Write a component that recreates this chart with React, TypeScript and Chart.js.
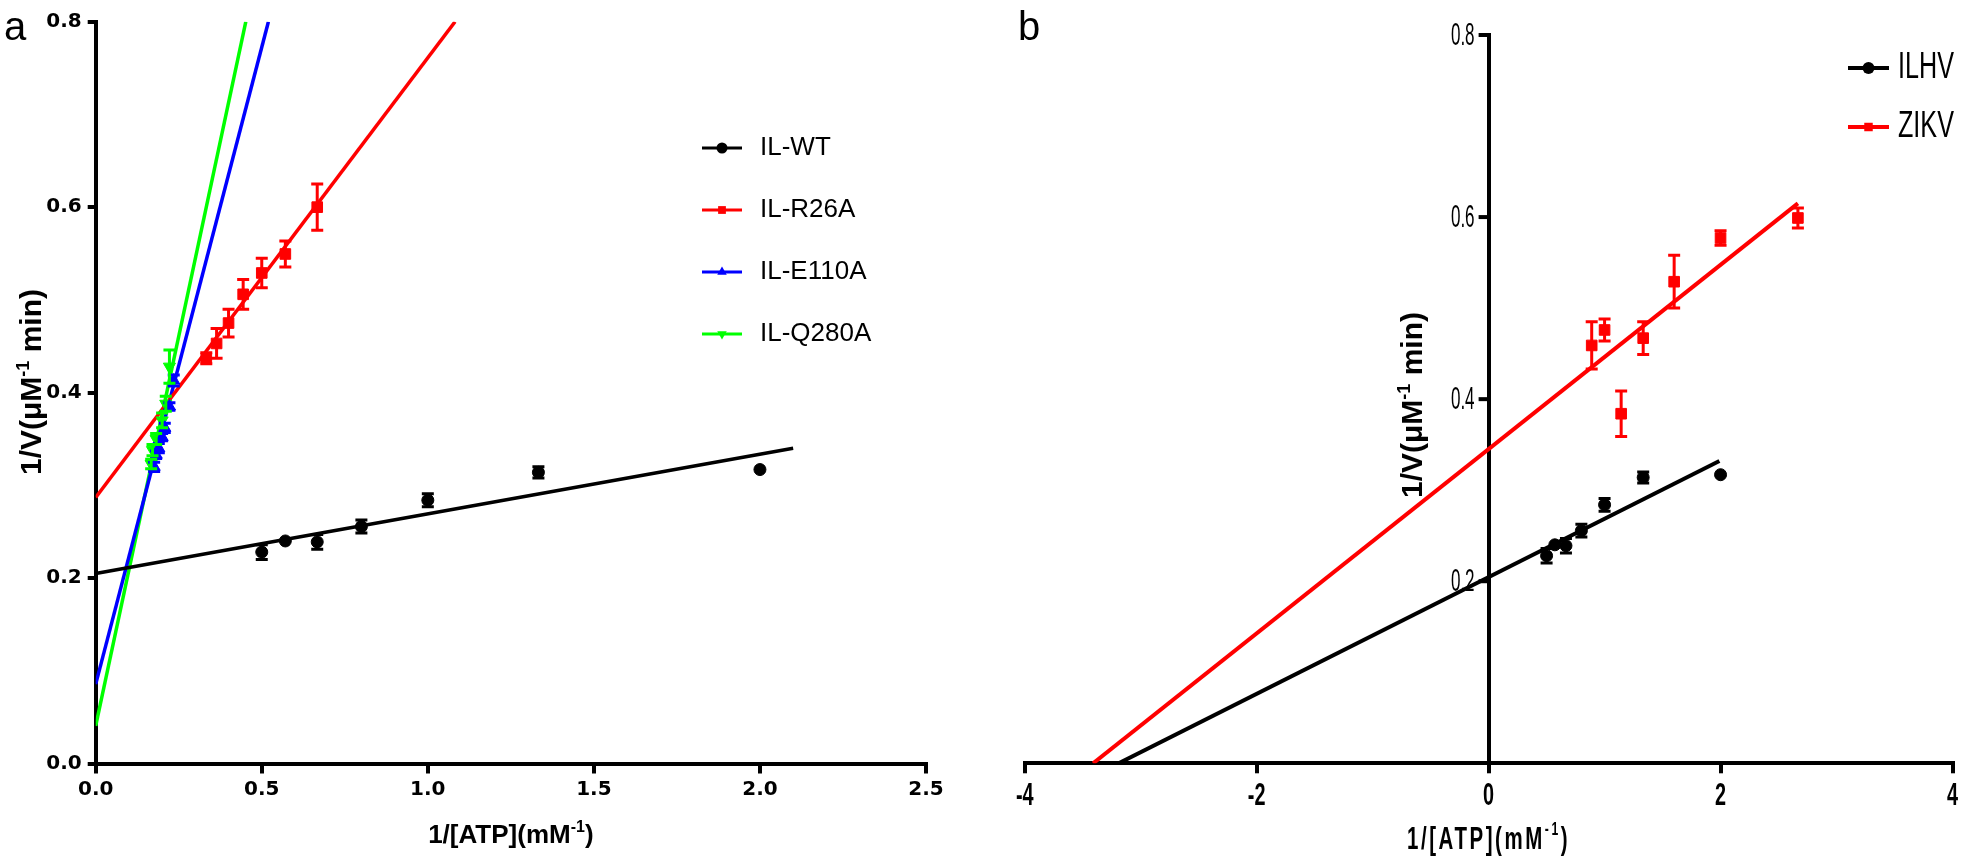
import React, { useEffect, useRef } from "react";
import { Chart, registerables } from "chart.js";
Chart.register(...registerables);

// ---------------- Panel a data ----------------
const wtX = [0.5, 0.571, 0.667, 0.8, 1.0, 1.333, 2.0];
const wtY = [0.228, 0.24, 0.239, 0.2555, 0.284, 0.314, 0.317];
const wtErr = [0.008, 0.0, 0.008, 0.007, 0.007, 0.006, 0.0];

const r26aX = [0.333, 0.364, 0.4, 0.444, 0.5, 0.571, 0.667];
const r26aY = [0.437, 0.453, 0.475, 0.506, 0.529, 0.5495, 0.6];
const r26aErr = [0.006, 0.016, 0.015, 0.016, 0.016, 0.014, 0.025];

const e110aX = [0.176, 0.182, 0.19, 0.2, 0.208, 0.222, 0.235];
const e110aY = [0.32, 0.333, 0.34, 0.352, 0.362, 0.385, 0.413];
const e110aErr = [0.005, 0.004, 0.005, 0.004, 0.005, 0.004, 0.006];

const q280aX = [0.167, 0.171, 0.182, 0.2, 0.211, 0.222];
const q280aY = [0.323, 0.338, 0.35, 0.37, 0.388, 0.428];
const q280aErr = [0.005, 0.006, 0.006, 0.008, 0.008, 0.018];

const wtFitX = [0, 2.1];
const wtFitY = [0.205, 0.34];
const r26aFitX = [0, 1.082];
const r26aFitY = [0.287, 0.8];
const e110aFitX = [0, 0.52];
const e110aFitY = [0.0856, 0.8];
const q280aFitX = [0, 0.452];
const q280aFitY = [0.0406, 0.8];

const aXTicks = [0, 0.5, 1.0, 1.5, 2.0, 2.5];
const aYTicks = [0, 0.2, 0.4, 0.6, 0.8];

// ---------------- Panel b data ----------------
const ilhvX = [0.5, 0.571, 0.667, 0.8, 1.0, 1.333, 2.0];
const ilhvY = [0.228, 0.24, 0.239, 0.2555, 0.284, 0.314, 0.317];
const ilhvErr = [0.008, 0.0, 0.008, 0.007, 0.007, 0.006, 0.0];

const zikvX = [0.889, 1.0, 1.143, 1.333, 1.6, 2.0, 2.667];
const zikvY = [0.459, 0.476, 0.384, 0.467, 0.529, 0.577, 0.599];
const zikvErr = [0.026, 0.012, 0.025, 0.018, 0.029, 0.008, 0.011];

const ilhvFitX = [-3.19, 1.99];
const ilhvFitY = [0, 0.332];
const zikvFitX = [-3.41, 2.667];
const zikvFitY = [0, 0.615];

const bXTicks = [-4, -2, 0, 2, 4];
const bYTicks = [0.2, 0.4, 0.6, 0.8];

// ---------------- styling ----------------
const ARIAL = '"Liberation Sans", Arial, Helvetica, sans-serif';
const WIDE = '"DejaVu Sans", Verdana, sans-serif';

const toPts = (xs: number[], ys: number[]) => xs.map((x, i) => ({ x, y: ys[i] }));

function ptsDs(label: string, xs: number[], ys: number[], errs: number[], color: string, style: string, r: number, rot: number) {
  return {
    label,
    data: toPts(xs, ys),
    errors: errs,
    showLine: false,
    pointStyle: style,
    pointRadius: r,
    pointHoverRadius: r,
    pointRotation: rot,
    backgroundColor: color,
    borderColor: color,
    borderWidth: 1,
    isPts: true,
  };
}

function fitDs(xs: number[], ys: number[], color: string, w: number) {
  return {
    label: "",
    data: toPts(xs, ys),
    showLine: true,
    pointRadius: 0,
    pointHoverRadius: 0,
    borderColor: color,
    backgroundColor: color,
    borderWidth: w,
    fill: false,
  };
}

const errorBarPlugin = {
  id: "errbars",
  afterDatasetsDraw(chart: any) {
    const ctx = chart.ctx;
    const xs = chart.scales.x;
    const ys = chart.scales.y;
    chart.data.datasets.forEach((ds: any) => {
      if (!ds.errors) return;
      ctx.save();
      ctx.strokeStyle = ds.borderColor;
      ctx.lineWidth = 3;
      ds.data.forEach((p: any, i: number) => {
        const e = ds.errors[i];
        if (!e) return;
        const px = xs.getPixelForValue(p.x);
        const top = ys.getPixelForValue(p.y + e);
        const bot = ys.getPixelForValue(p.y - e);
        const cap = 6;
        ctx.beginPath();
        ctx.moveTo(px, top);
        ctx.lineTo(px, bot);
        ctx.moveTo(px - cap, top);
        ctx.lineTo(px + cap, top);
        ctx.moveTo(px - cap, bot);
        ctx.lineTo(px + cap, bot);
        ctx.stroke();
      });
      ctx.restore();
    });
  },
};

function drawMarker(ctx: CanvasRenderingContext2D, style: string, x: number, y: number, r: number, color: string, rot: number) {
  ctx.save();
  ctx.fillStyle = color;
  ctx.beginPath();
  if (style === "circle") {
    ctx.arc(x, y, r, 0, Math.PI * 2);
  } else if (style === "rect") {
    const s = r * Math.SQRT1_2;
    ctx.rect(x - s, y - s, 2 * s, 2 * s);
  } else {
    ctx.translate(x, y);
    ctx.rotate((rot * Math.PI) / 180);
    ctx.moveTo(0, -r);
    ctx.lineTo(r * 0.866, r * 0.5);
    ctx.lineTo(-r * 0.866, r * 0.5);
    ctx.closePath();
  }
  ctx.fill();
  ctx.restore();
}

type Part = { t: string; sup?: boolean };

function drawSupText(
  ctx: CanvasRenderingContext2D,
  parts: Part[],
  cx: number,
  cy: number,
  font: string,
  supFont: string,
  supRise: number,
  rotate: boolean,
  sx = 1,
  spacing = "0px"
) {
  ctx.save();
  (ctx as any).letterSpacing = spacing;
  let total = 0;
  const widths = parts.map((p) => {
    ctx.font = p.sup ? supFont : font;
    const w = ctx.measureText(p.t).width;
    total += w;
    return w;
  });
  ctx.translate(cx, cy);
  if (rotate) ctx.rotate(-Math.PI / 2);
  ctx.scale(sx, 1);
  ctx.fillStyle = "#000";
  ctx.textBaseline = "middle";
  ctx.textAlign = "left";
  let x = -total / 2;
  parts.forEach((p, i) => {
    ctx.font = p.sup ? supFont : font;
    ctx.fillText(p.t, x, p.sup ? -supRise : 0);
    x += widths[i];
  });
  ctx.restore();
}

function drawNarrow(ctx: CanvasRenderingContext2D, text: string, x: number, y: number, font: string, sx: number, align: CanvasTextAlign) {
  ctx.save();
  ctx.translate(x, y);
  ctx.scale(sx, 1);
  ctx.font = font;
  ctx.fillStyle = "#000";
  ctx.textAlign = align;
  ctx.textBaseline = "middle";
  ctx.fillText(text, 0, 0);
  ctx.restore();
}

function drawLegend(
  ctx: CanvasRenderingContext2D,
  chart: any,
  rows: number[],
  x0: number,
  x1: number,
  tx: number,
  font: string,
  r: number,
  lw: number,
  sx: number
) {
  const dss = chart.data.datasets.filter((d: any) => d.isPts);
  dss.forEach((ds: any, i: number) => {
    const y = rows[i];
    ctx.save();
    ctx.strokeStyle = ds.borderColor;
    ctx.lineWidth = lw;
    ctx.beginPath();
    ctx.moveTo(x0, y);
    ctx.lineTo(x1, y);
    ctx.stroke();
    ctx.restore();
    drawMarker(ctx, ds.pointStyle, (x0 + x1) / 2, y, r, ds.borderColor, ds.pointRotation || 0);
    drawNarrow(ctx, ds.label, tx, y, font, sx, "left");
  });
}

const decoA = {
  id: "decoA",
  afterDraw(chart: any) {
    const ctx = chart.ctx as CanvasRenderingContext2D;
    const ca = chart.chartArea;
    drawSupText(ctx, [{ t: "1/V(μM" }, { t: "-1", sup: true }, { t: " min)" }], 33, 382, `bold 30px ${ARIAL}`, `bold 18px ${ARIAL}`, 9, true);
    drawSupText(ctx, [{ t: "1/[ATP](mM" }, { t: "-1", sup: true }, { t: ")" }], (ca.left + ca.right) / 2, 836, `bold 26px ${ARIAL}`, `bold 16px ${ARIAL}`, 8, false);
    drawLegend(ctx, chart, [148, 210, 272, 334], 702, 742, 760, `26px ${ARIAL}`, 5.5, 3, 1);
    ctx.save();
    ctx.font = `40px ${ARIAL}`;
    ctx.fillStyle = "#000";
    ctx.textBaseline = "alphabetic";
    ctx.fillText("a", 4, 40);
    ctx.restore();
  },
};

const decoB = {
  id: "decoB",
  afterDraw(chart: any) {
    const ctx = chart.ctx as CanvasRenderingContext2D;
    const ca = chart.chartArea;
    const xs = chart.scales.x;
    const ys = chart.scales.y;
    const ax = xs.getPixelForValue(0);
    // y-axis tick marks and labels (axis sits at x = 0)
    ys.ticks.forEach((t: any) => {
      const py = ys.getPixelForValue(t.value);
      ctx.save();
      ctx.strokeStyle = "#000";
      ctx.lineWidth = 4;
      ctx.beginPath();
      ctx.moveTo(ax, py);
      ctx.lineTo(ax - 10, py);
      ctx.stroke();
      ctx.restore();
      drawNarrow(ctx, Number(t.value).toFixed(1), ax - 14, py + 1, `31px ${ARIAL}`, 0.55, "right");
    });
    // x tick labels
    xs.ticks.forEach((t: any) => {
      const px = xs.getPixelForValue(t.value);
      drawNarrow(ctx, String(t.value), px, ca.bottom + 33, `bold 32px ${ARIAL}`, 0.62, "center");
    });
    drawSupText(ctx, [{ t: "1/V(μM" }, { t: "-1", sup: true }, { t: " min)" }], 434, 405, `bold 30px ${ARIAL}`, `bold 18px ${ARIAL}`, 9, true);
    drawSupText(ctx, [{ t: "1/[ATP](mM" }, { t: "-1", sup: true }, { t: ")" }], (ca.left + ca.right) / 2, 840, `bold 32px ${ARIAL}`, `bold 19px ${ARIAL}`, 10, false, 0.64, "4px");
    drawLegend(ctx, chart, [68, 127], 868, 909, 918, `37px ${ARIAL}`, 6, 4, 0.68);
    ctx.save();
    ctx.font = `40px ${ARIAL}`;
    ctx.fillStyle = "#000";
    ctx.textBaseline = "alphabetic";
    ctx.fillText("b", 38, 40);
    ctx.restore();
  },
};

function axisCommon(tickFont: any, tickLen: number, pad: number) {
  return {
    type: "linear" as const,
    ticks: { font: tickFont, color: "#000", padding: pad, maxRotation: 0, autoSkip: false },
    grid: { display: true, drawOnChartArea: false, drawTicks: true, tickLength: tickLen, color: "#000", lineWidth: 4 },
    border: { display: true, color: "#000", width: 4 },
    title: { display: false },
  };
}

function configA(): any {
  const tf = { family: WIDE, size: 20, weight: "bold" };
  const xa: any = axisCommon(tf, 10, 4);
  const ya: any = axisCommon(tf, 8, 6);
  return {
    type: "scatter",
    data: {
      datasets: [
        ptsDs("IL-WT", wtX, wtY, wtErr, "#000000", "circle", 6, 0),
        ptsDs("IL-R26A", r26aX, r26aY, r26aErr, "#ff0000", "rect", 7.5, 0),
        ptsDs("IL-E110A", e110aX, e110aY, e110aErr, "#0000ff", "triangle", 7, 0),
        ptsDs("IL-Q280A", q280aX, q280aY, q280aErr, "#00ff00", "triangle", 7, 180),
        fitDs(wtFitX, wtFitY, "#000000", 3.5),
        fitDs(r26aFitX, r26aFitY, "#ff0000", 3.5),
        fitDs(e110aFitX, e110aFitY, "#0000ff", 3.5),
        fitDs(q280aFitX, q280aFitY, "#00ff00", 3.5),
      ],
    },
    options: {
      responsive: false,
      animation: false,
      devicePixelRatio: 1,
      events: [],
      layout: { padding: { left: 0, top: 21.7, right: 54, bottom: 0 } },
      plugins: { legend: { display: false }, tooltip: { enabled: false }, title: { display: false } },
      scales: {
        x: {
          ...xa,
          min: 0,
          max: 2.5,
          afterBuildTicks: (s: any) => {
            s.ticks = aXTicks.map((v) => ({ value: v }));
          },
          ticks: { ...xa.ticks, callback: (v: any) => Number(v).toFixed(1) },
          afterFit: (s: any) => {
            s.height = 102.5;
          },
        },
        y: {
          ...ya,
          min: 0,
          max: 0.8,
          afterBuildTicks: (s: any) => {
            s.ticks = aYTicks.map((v) => ({ value: v }));
          },
          ticks: { ...ya.ticks, callback: (v: any) => Number(v).toFixed(1) },
          afterFit: (s: any) => {
            s.width = 95.7;
          },
        },
      },
    },
    plugins: [errorBarPlugin, decoA],
  };
}

function configB(): any {
  const xa: any = axisCommon({ family: ARIAL, size: 20 }, 10, 6);
  const ya: any = axisCommon({ family: ARIAL, size: 20 }, 0, 0);
  return {
    type: "scatter",
    data: {
      datasets: [
        ptsDs("ILHV", ilhvX, ilhvY, ilhvErr, "#000000", "circle", 6, 0),
        ptsDs("ZIKV", zikvX, zikvY, zikvErr, "#ff0000", "rect", 7.5, 0),
        fitDs(ilhvFitX, ilhvFitY, "#000000", 4),
        fitDs(zikvFitX, zikvFitY, "#ff0000", 4),
      ],
    },
    options: {
      responsive: false,
      animation: false,
      devicePixelRatio: 1,
      events: [],
      layout: { padding: { left: 44.7, top: 35, right: 5.7, bottom: 0 } },
      plugins: { legend: { display: false }, tooltip: { enabled: false }, title: { display: false } },
      scales: {
        x: {
          ...xa,
          min: -4,
          max: 4,
          afterBuildTicks: (s: any) => {
            s.ticks = bXTicks.map((v) => ({ value: v }));
          },
          ticks: { ...xa.ticks, display: false },
          afterFit: (s: any) => {
            s.height = 102.7;
          },
        },
        y: {
          ...ya,
          position: { x: 0 },
          min: 0,
          max: 0.8,
          afterBuildTicks: (s: any) => {
            s.ticks = bYTicks.map((v) => ({ value: v }));
          },
          grid: { display: false },
          ticks: { ...ya.ticks, display: false },
        },
      },
    },
    plugins: [errorBarPlugin, decoB],
  };
}

export default function App() {
  const aRef = useRef<HTMLCanvasElement>(null);
  const bRef = useRef<HTMLCanvasElement>(null);
  useEffect(() => {
    const ca = new Chart(aRef.current as HTMLCanvasElement, configA());
    const cb = new Chart(bRef.current as HTMLCanvasElement, configB());
    return () => {
      ca.destroy();
      cb.destroy();
    };
  }, []);
  return (
    <div style={{ position: "fixed", left: 0, top: 0, width: 1961, height: 866, background: "#ffffff" }}>
      <canvas ref={aRef} width={980} height={866} style={{ position: "absolute", left: 0, top: 0, width: 980, height: 866 }} />
      <canvas ref={bRef} width={981} height={866} style={{ position: "absolute", left: 980, top: 0, width: 981, height: 866 }} />
    </div>
  );
}
